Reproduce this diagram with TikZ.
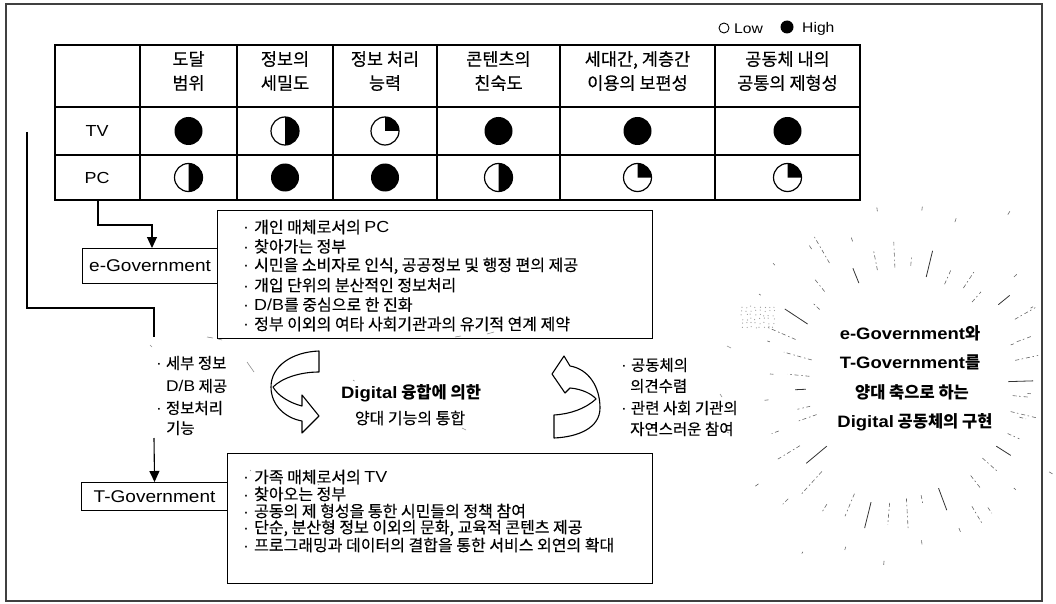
\documentclass[tikz,border=0pt]{standalone}
\usepackage{fontspec}
\setmainfont{Noto Sans CJK KR}[UprightFeatures={FakeBold=0.3}]
\newfontfamily\latf{Liberation Sans}[FakeStretch=1.12]
\newcommand\LTN[1]{{\latf #1}}
\newcommand\bul{\LTN{·}\hspace{5pt}}
\usetikzlibrary{arrows.meta}
\begin{document}
\begin{tikzpicture}[x=1pt,y=-1pt,
  frame/.style={draw=black!75,line width=1.1pt},
  gridl/.style={line width=1.3pt},
  tborder/.style={line width=2.6pt},
  cline/.style={line width=1.2pt},
  hdr/.style={align=center,font=\fontsize{17.5}{24}\selectfont,inner sep=0pt},
  rowlbl/.style={font=\fontsize{16}{18}\latf,inner sep=0pt},
  govbox/.style={draw,line width=1.1pt,font=\fontsize{17}{20}\latf,inner sep=0pt,anchor=north west},
  bulletbox/.style={draw,line width=1.1pt,anchor=north west,inner sep=0pt},
  btxt/.style={anchor=west,font=\fontsize{16}{17}\selectfont,inner sep=0pt},
  side/.style={anchor=west,font=\fontsize{15.5}{17}\selectfont,inner sep=0pt},
  midb/.style={font=\fontsize{16.5}{20}\selectfont\bfseries,inner sep=0pt},
  midr/.style={font=\fontsize{16}{20}\selectfont,inner sep=0pt},
  conn/.style={line width=1.1pt},
  arr/.style={conn,-{Triangle[length=11pt,width=10pt]}},
  ribbon/.style={draw,fill=white,line width=1.1pt,line join=round},
  ray/.style={draw=black!60,line width=0.6pt,dash pattern=on 4pt off 2.5pt on 1.5pt off 3pt},
  raysolid/.style={draw=black!80,line width=0.8pt},
  faint/.style={draw=black!45,line width=0.6pt},
  fullc/.pic={\fill (0,0) circle[radius=14pt];},
  halfc/.pic={\fill (0,0) -- (0pt,14pt) arc[start angle=90,end angle=-90,radius=14pt] -- cycle;
              \draw[cline] (0,0) circle[radius=14pt];},
  quarc/.pic={\fill (0,0) -- (14pt,0pt) arc[start angle=0,end angle=90,radius=14pt] -- cycle;
              \draw[cline] (0,0) circle[radius=14pt];}
]
\useasboundingbox (0,0) rectangle (1056,604);
\draw[frame] (6,4) rectangle (1042,601);

% legend
\draw[line width=0.9pt] (724,28) circle[radius=5pt];
\node[anchor=west,font=\fontsize{14}{14}\latf,inner sep=0pt] (low) at (734,29) {Low};
\fill (787,27) circle[radius=6.5pt];
\node[anchor=west,font=\fontsize{14}{14}\latf,inner sep=0pt] (high) at (802,29) {High};

% table
\node[minimum width=805pt,minimum height=155pt,anchor=north west,inner sep=0pt] (table) at (55,45) {};
\foreach \x in {140,237,333,437,560,715} \draw[gridl] (\x,45) -- (\x,200);
\draw[gridl] (55,107) -- (860,107);
\draw[gridl] (55,155) -- (860,155);
\draw[tborder] (55,45) rectangle (860,200);
\foreach \x/\t in {188.5/{도달\\범위},285/{정보의\\세밀도},385/{정보 처리\\능력},498.5/{콘텐츠의\\친숙도},637.5/{세대간, 계층간\\이용의 보편성},787.5/{공동체 내의\\공통의 제형성}}
  \node[hdr] at (\x,71) {\t};
\node[rowlbl] (tv) at (97,131) {TV};
\node[rowlbl] (pc) at (97,177.5) {PC};
\pic at (188.5,131) {fullc};
\pic at (285,131) {halfc};
\pic at (385,131) {quarc};
\pic at (498.5,131) {fullc};
\pic at (637.5,131) {fullc};
\pic at (787.5,131) {fullc};
\pic at (188.5,177.5) {halfc};
\pic at (285,177.5) {fullc};
\pic at (385,177.5) {fullc};
\pic at (498.5,177.5) {halfc};
\pic at (637.5,177.5) {quarc};
\pic at (787.5,177.5) {quarc};

% e-Government
\node[govbox,minimum width=135pt,minimum height=35pt] (egov) at (82,248) {e-Government};
\node[bulletbox,minimum width=435pt,minimum height=128pt] (box1) at (217,210) {};
\foreach \t [count=\i] in {{\bul 개인 매체로서의 \LTN{PC}},{\bul 찾아가는 정부},{\bul 시민을 소비자로 인식, 공공정보 및 행정 편의 제공},{\bul 개입 단위의 분산적인 정보처리},{\bul \LTN{D/B}를 중심으로 한 진화},{\bul 정부 이외의 여타 사회기관과의 유기적 연계 제약}}
  \node[btxt] (ea\i) at (243,{227+19.4*(\i-1)}) {\t};

\coordinate (pcdown) at (98,200);
\coordinate (egovin) at (152,248);
\draw[arr] (pcdown) -- (98,225) -| (egovin);

% T-Government
\node[govbox,minimum width=146pt,minimum height=28pt] (tgov) at (81,482) {T-Government};
\node[bulletbox,minimum width=425pt,minimum height=130pt] (box2) at (227,453) {};
\foreach \t [count=\i] in {{\bul 가족 매체로서의 \LTN{TV}},{\bul 찾아오는 정부},{\bul 공동의 제 형성을 통한 시민들의 정책 참여},{\bul 단순, 분산형 정보 이외의 문화, 교육적 콘텐츠 제공},{\bul 프로그래밍과 데이터의 결합을 통한 서비스 외연의 확대}}
  \node[btxt] (ta\i) at (243,{477+17*(\i-1)}) {\t};

\coordinate (lstart) at (27,132);
\coordinate (lbend) at (154,337);
\coordinate (lresume) at (154,438);
\draw[conn] (lstart) -- (27,308) -| (lbend);
\draw[arr] (lresume) -- (tgov.north);

% middle texts
\node[side] (m1) at (156,363) {\LTN{·}\hspace{4pt}세부 정보};
\node[side] (m2) at (166,386) {\LTN{D/B} 제공};
\node[side] (m3) at (156,408) {\LTN{·}\hspace{4pt}정보처리};
\node[side] (m4) at (166,428) {기능};
\node[side] (r1) at (621,365) {\LTN{·}\hspace{4pt}공동체의};
\node[side] (r2) at (630,386) {의견수렴};
\node[side] (r3) at (621,408) {\LTN{·}\hspace{4pt}관련 사회 기관의};
\node[side] (r4) at (630,429) {자연스러운 참여};
\node[midb] (c1) at (411,393) {\LTN{Digital} 융합에 의한};
\node[midr] (c2) at (410,418) {양대 기능의 통합};

% curved arrows
\draw[ribbon] (319,351) .. controls (292,352) and (271,366) .. (271,387)
  .. controls (271,405) and (285,418) .. (302,421) -- (302,433) -- (319,416) -- (302,395) -- (302,406)
  .. controls (290,403) and (278,396) .. (273,387) .. controls (282,378) and (300,372) .. (319,372) -- cycle;
\draw[ribbon] (554,438) .. controls (578,437) and (600,428) .. (600,408)
  .. controls (600,386) and (588,369) .. (570,366) -- (564,356) -- (552,374) -- (565,393) -- (570,388)
  .. controls (582,389) and (592,394) .. (596,399) .. controls (585,409) and (570,414) .. (554,415) -- cycle;

% burst text
\node[midb] (g1) at (910,333) {\LTN{e-Government}와};
\node[midb] (g2) at (910,362) {\LTN{T-Government}를};
\node[midb] (g3) at (912,392) {양대 축으로 하는};
\node[midb] (g4) at (915,422) {\LTN{Digital} 공동체의 구현};

% burst rays
\pgfmathsetseed{4242}
\foreach \a [count=\i] in {0,9,...,351}{
  \pgfmathsetmacro\ang{\a+4.5+3*rnd}
  \pgfmathsetmacro\cc{cos(\ang)}
  \pgfmathsetmacro\ss{sin(\ang)}
  \pgfmathsetmacro\tx{\cc>0 ? 100/(\cc) : -72/(\cc)}
  \pgfmathsetmacro\ty{\ss>0 ? 55/(\ss) : -70/(\ss)}
  \pgfmathsetmacro\tin{min(\tx,\ty)}
  \pgfmathsetmacro\dout{1/sqrt((\cc/138)^2+(\ss/160)^2)}
  \pgfmathsetmacro\da{max(\tin+6,0.6*\dout)+12*rnd}
  \pgfmathsetmacro\db{max(min(\da+8+24*rnd,\dout),\da+5)}
  \pgfmathtruncatemacro\kind{mod(\i,4)}
  \ifnum\kind=0 \def\rs{raysolid}\else\def\rs{ray}\fi
  \draw[\rs] ({900+\da*\cc},{385+\da*\ss}) -- ({900+\db*\cc},{385+\db*\ss});
}
\foreach \a in {2,15,...,350}{
  \pgfmathsetmacro\ang{\a+3*rnd}
  \pgfmathsetmacro\cc{cos(\ang)}
  \pgfmathsetmacro\ss{sin(\ang)}
  \pgfmathsetmacro\dout{1/sqrt((\cc/138)^2+(\ss/160)^2)}
  \pgfmathsetmacro\da{(0.82+0.15*rnd)*\dout}
  \pgfmathsetmacro\db{\da+2+6*rnd}
  \draw[ray] ({900+\da*\cc},{385+\da*\ss}) -- ({900+\db*\cc},{385+\db*\ss});
}
% stipple patch
\foreach \i in {0,...,7}{\foreach \j in {0,...,5}{
  \pgfmathsetmacro\px{741+4.5*\i+2*rnd}
  \pgfmathsetmacro\py{306+4*\j+2*rnd}
  \fill[black!40] (\px,\py) circle[radius=0.6pt];
}}
% faint marks around the middle
\foreach \xa/\ya/\xb/\yb in {150/345/152/347, 207/337/213/338, 218/339/222/340, 247/362/254/372,
  455/337/461/336, 487/334/494/332, 727/346/731/348, 353/380/354.5/381, 250/470/251/471,
  318/484/319/485, 462/428/466/430, 720/394/722/397, 727/432/729/433}
  \draw[faint] (\xa,\ya) -- (\xb,\yb);
\end{tikzpicture}
\end{document}
